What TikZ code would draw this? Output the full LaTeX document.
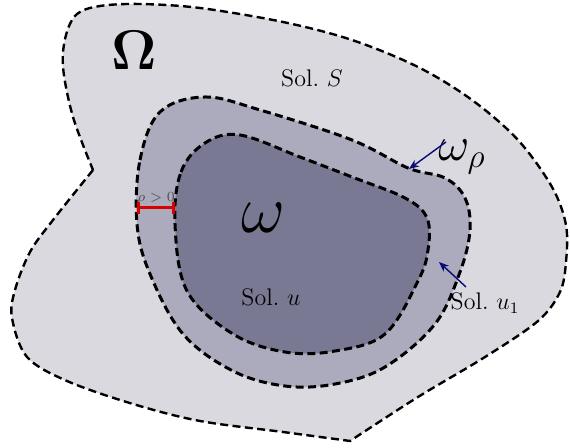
\documentclass[tikz,border=0pt]{standalone}
\usepackage{fix-cm}
\usepackage{amsmath,amssymb}
\usepackage{xcolor}
\usetikzlibrary{arrows.meta}

\definecolor{omegaout}{RGB}{218,217,223}
\definecolor{omegarho}{RGB}{172,171,189}
\definecolor{omegain}{RGB}{121,121,147}
\definecolor{arrowblue}{RGB}{10,10,120}

\begin{document}
\begin{tikzpicture}[x=0.5pt, y=-0.5pt,
  border/.style={draw=black, dash pattern=on 4pt off 2.2pt},
  lab/.style={font=\fontsize{12}{14}\selectfont, inner sep=0pt},
  big/.style={font=\fontsize{#1}{#1}\selectfont, inner sep=0pt},
  pointer/.style={-{Stealth[length=5pt, width=4pt]}, draw=arrowblue, line width=0.7pt},
  gap/.style={{Bar[width=6pt]}-{Bar[width=6pt]}, draw=red!85!black, line width=1.5pt}
]
\useasboundingbox (0,0) rectangle (570,448);

% Omega
\path[border, fill=omegaout, line width=1.2pt]
  plot[smooth, tension=0.55] coordinates {(93,170) (53,220) (30,252) (15,290) (12,318) (27,357) (67,381) (133,404) (200,421) (283,432) (350,441)}
  -- plot[smooth, tension=0.55] coordinates {(350,441) (418,397) (485,357) (538,321) (560,292) (566,262) (566,225) (552,187) (518,140) (472,100) (418,67) (352,40) (283,22) (200,8) (140,4) (100,6) (77,14) (66,35) (63,67) (73,117) (93,170)}
  -- cycle;

% omega_rho
\path[border, fill=omegarho, line width=1.5pt]
  plot[smooth cycle, tension=0.6] coordinates {(137,224) (140,160) (160,112) (205,97) (260,110) (352,140) (408,168) (445,178) (465,198) (470,230) (460,272) (435,324) (385,367) (335,384) (285,386) (233,371) (183,334) (150,274)};

% omega
\path[border, fill=omegain, line width=1.5pt]
  plot[smooth cycle, tension=0.6] coordinates {(175,224) (181,172) (205,143) (240,135) (300,157) (352,177) (405,198) (427,218) (428,250) (418,281) (385,334) (335,351) (285,352) (233,334) (187,291)};

\node[big=28] (Om) at (134,50) {$\boldsymbol{\Omega}$};
\node[lab] (solS) at (312,78) {Sol.\ $S$};
\node[big=24] (wrho) at (462,157) {$\omega_\rho$};
\node[big=34] (w) at (263,218) {$\omega$};
\node[lab] (solu) at (271,297) {Sol.\ $u$};
\node[lab] (solua) at (485,303) {Sol.\ $u_1$};
\node[font=\fontsize{7}{8}\selectfont, text=black!70, inner sep=0pt] (rholab) at (156,198) {$\rho>0$};

\coordinate (rhotail) at (446,142);
\coordinate (rhotip) at (409,169);
\coordinate (uatail) at (466,287);
\coordinate (uatip) at (439,262);
\coordinate (gapL) at (137,208);
\coordinate (gapR) at (175,208);

\draw[pointer] (rhotail) -- (rhotip);
\draw[pointer] (uatail) -- (uatip);
\draw[gap] (gapL) -- (gapR);

\end{tikzpicture}
\end{document}
